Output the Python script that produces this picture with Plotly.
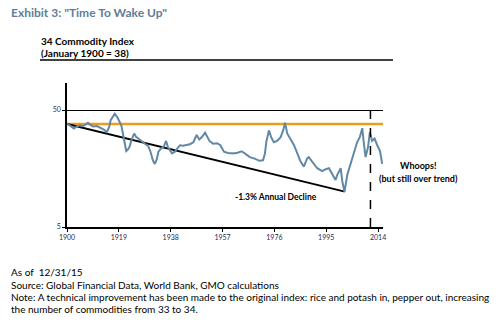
import plotly.graph_objects as go
import math

# ---- data ----
years = [1900.0, 1901.0, 1902.5, 1903.5, 1904.8, 1906.0, 1907.7, 1908.5, 1909.5, 1911.0,
         1912.0, 1913.5, 1914.6, 1915.5, 1916.0, 1917.0, 1917.5, 1918.4, 1919.3, 1919.9,
         1920.5, 1921.3, 1921.7, 1922.3, 1923.0, 1923.5, 1924.6, 1925.3, 1926.1, 1927.5,
         1928.5, 1929.8, 1930.6, 1931.5, 1932.2, 1932.9, 1933.5, 1934.5, 1935.5, 1936.3,
         1937.0, 1937.8, 1938.5, 1939.5, 1940.5, 1941.4, 1942.5, 1943.8, 1945.0, 1946.3,
         1947.5, 1948.5, 1949.5, 1950.6, 1951.5, 1952.2, 1953.5, 1955.0, 1956.2, 1957.5,
         1959.0, 1961.0, 1962.5, 1964.0, 1965.5, 1967.0, 1968.8, 1970.5, 1971.8, 1972.5,
         1973.1, 1974.0, 1974.8, 1975.8, 1977.0, 1978.3, 1979.2, 1979.9, 1980.7, 1981.9,
         1983.2, 1984.4, 1985.6, 1986.8, 1988.0, 1988.6, 1989.8, 1991.7, 1993.5, 1994.8,
         1996.0, 1997.2, 1998.4, 1999.0, 2000.3, 2000.9, 2001.7, 2002.7, 2003.9, 2005.1,
         2006.3, 2007.3, 2008.2, 2008.8, 2009.4, 2010.3, 2011.0, 2011.8, 2012.7, 2013.7,
         2014.7, 2015.5]
index_values = [38.5, 37.0, 34.8, 36.0, 37.1, 36.5, 38.9, 37.5, 36.2, 36.5,
                35.7, 34.0, 32.4, 36.0, 41.0, 45.0, 46.5, 43.5, 40.0, 37.0,
                31.5, 24.0, 22.3, 22.9, 24.5, 27.2, 31.5, 29.5, 28.5, 26.8,
                25.8, 24.5, 22.0, 18.5, 17.3, 19.0, 22.0, 23.5, 24.5, 27.2,
                24.0, 22.5, 21.3, 22.0, 23.3, 25.0, 24.8, 25.0, 25.5, 26.5,
                30.6, 28.0, 29.5, 32.0, 29.0, 27.2, 25.8, 26.0, 25.0, 22.0,
                21.5, 21.3, 21.6, 22.2, 21.0, 19.8, 19.2, 18.4, 18.6, 21.0,
                27.2, 33.5, 29.3, 26.5, 27.2, 29.3, 33.5, 39.0, 31.5, 28.0,
                25.0, 21.3, 18.1, 16.4, 19.3, 19.8, 18.1, 15.9, 15.0, 15.6,
                15.9, 14.3, 12.6, 13.9, 15.9, 12.2, 10.0, 13.9, 17.3, 21.3,
                26.5, 29.3, 35.0, 25.8, 19.8, 24.0, 32.3, 27.2, 28.5, 25.0,
                22.3, 17.3]

base_value = 38
trend_years = [1900.0, 2001.8]
annual_decline = 0.013
trend_values = [base_value * (1 - annual_decline) ** (y - trend_years[0]) for y in trend_years]
hline_years = [1900.0, 2015.8]
hline_values = [base_value, base_value]
marker_year = 2011.2
x_ticks = [1900, 1919, 1938, 1957, 1976, 1995, 2014]
y_ticks = [5, 50]

# ---- layout geometry (pixels) ----
W, H = 499, 326
L, R = 67, 383
T, B = 83, 226.7


def px(x):
    return (x - L) / (R - L)


def py(y):
    return (B - y) / (B - T)


FONT = "Lato, Carlito, 'Open Sans', sans-serif"

fig = go.Figure()
fig.add_trace(go.Scatter(x=hline_years, y=hline_values, mode="lines",
                         line=dict(color="#F09A1E", width=2.5), hoverinfo="skip"))
fig.add_trace(go.Scatter(x=trend_years, y=trend_values, mode="lines",
                         line=dict(color="#000000", width=2), hoverinfo="skip"))
fig.add_trace(go.Scatter(x=years, y=index_values, mode="lines",
                         line=dict(color="#6189A6", width=2), hoverinfo="skip"))
fig.add_trace(go.Scatter(x=[marker_year, marker_year], y=[5, 50], mode="lines",
                         line=dict(color="#000000", width=1.5, dash="dash"), hoverinfo="skip"))

fig.update_layout(
    width=W, height=H,
    margin=dict(l=L, r=W - R, t=T, b=H - B),
    paper_bgcolor="white", plot_bgcolor="white",
    showlegend=False,
    font=dict(family=FONT, color="#000000"),
    xaxis=dict(range=[1900, 2015.8], tickvals=x_ticks, ticks="outside", ticklen=3,
               tickcolor="#000", showline=True, linecolor="#000", linewidth=1.5,
               showgrid=False, zeroline=False,
               tickfont=dict(size=7, color="#1F2A55", family=FONT)),
    yaxis=dict(type="log", range=[math.log10(5), 1.93], tickvals=y_ticks,
               ticks="outside", ticklen=3, tickcolor="#000",
               showline=True, linecolor="#000", linewidth=1.5,
               showgrid=True, gridcolor="#000", gridwidth=1.2, zeroline=False,
               tickfont=dict(size=7, color="#1F2A55", family=FONT)),
)

fig.add_shape(type="line", xref="paper", yref="paper",
              x0=px(40), x1=px(393), y0=py(60), y1=py(60),
              line=dict(color="#000", width=1.5))


def note(text, x, y, size, bold=False, color="#000", xanchor="left"):
    fig.add_annotation(text=f"<b>{text}</b>" if bold else text, xref="paper", yref="paper",
                       x=px(x), y=py(y), xanchor=xanchor, yanchor="middle", showarrow=False,
                       font=dict(size=size, color=color, family=FONT))


note('Exhibit 3: "Time To Wake Up"', 9, 13, 12, bold=True, color="#5E7E99")
note("34 Commodity Index", 39, 41, 10, bold=True)
note("(January 1900 = 38)", 39, 53, 10, bold=True)
note("-1.3% Annual Decline", 276, 197, 8.5, bold=True, xanchor="center")
note("Whoops!", 418, 165, 9, bold=True, xanchor="center")
note("(but still over trend)", 418, 178, 9, bold=True, xanchor="center")
note("As of  12/31/15", 9, 272, 10)
note("Source: Global Financial Data, World Bank, GMO calculations", 9, 285, 10)
note("Note: A technical improvement has been made to the original index: rice and potash in, pepper out, increasing",
     9, 297, 10)
note("the number of commodities from 33 to 34.", 9, 309, 10)

fig.write_html("out.html")
